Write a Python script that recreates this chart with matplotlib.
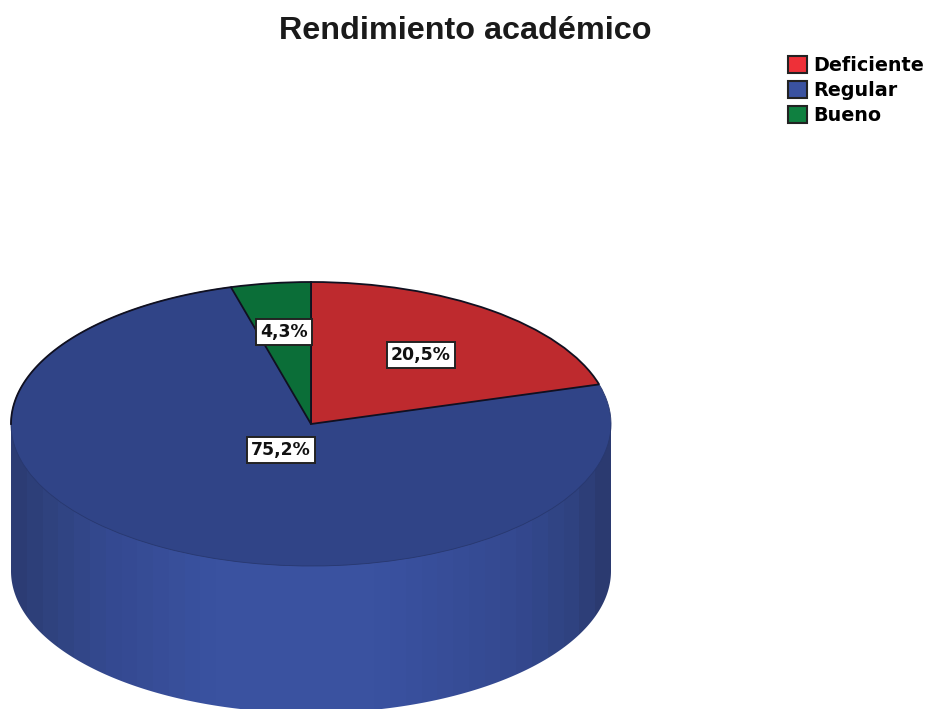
import numpy as np
import matplotlib
matplotlib.use("Agg")
import matplotlib.pyplot as plt
from matplotlib.patches import Patch, Polygon
from matplotlib.colors import LinearSegmentedColormap

title = "Rendimiento académico"
categories = ["Deficiente", "Regular", "Bueno"]
values = [20.5, 75.2, 4.3]
value_labels = ["20,5%", "75,2%", "4,3%"]
top_colors = ["#be2a2e", "#304487", "#0b6e38"]
legend_colors = ["#ee3038", "#3a52a0", "#0f8040"]

W, H = 926, 709
fig = plt.figure(figsize=(W / 100, H / 100), dpi=100, facecolor="white")

# Top ellipse occupies this pixel box; the pie is stretched into it
left, right, top, bottom = 11, 611, 282, 566
ax = fig.add_axes([left / W, 1 - bottom / H, (right - left) / W, (bottom - top) / H])
wedges, _ = ax.pie(values, colors=top_colors, startangle=90, counterclock=False, radius=1)
edge = "#101020"
for w, z, ec, lw in zip(wedges, [3, 2, 3], [edge, "#28386f", edge], [1.3, 0.6, 1.3]):
    w.set_zorder(z)
    w.set_edgecolor(ec)
    w.set_linewidth(lw)
ax.set_aspect("auto")
ax.axis("off")

# Cylinder side, shaded in vertical bands
depth = 2 * 147 / (bottom - top)
t = np.linspace(0, np.pi, 300)
outline = np.vstack([[[-1, 0]], np.column_stack([-np.cos(t), -np.sin(t) - depth]), [[1, 0]]])
side = Polygon(outline, closed=True, transform=ax.transData, facecolor="none", edgecolor="none", clip_on=False)
ax.add_patch(side)
side_cmap = LinearSegmentedColormap.from_list(
    "side", [(0.0, "#2c3c74"), (0.06, "#304380"), (0.15, "#344990"), (0.33, "#3a52a0"),
             (0.62, "#3a52a0"), (0.85, "#344990"), (0.95, "#2f4280"), (1.0, "#2b3a70")], N=38)
img = ax.imshow(np.linspace(0, 1, 38)[None, :], cmap=side_cmap, extent=(-1, 1, -1 - depth, 0),
                aspect="auto", zorder=1, interpolation="nearest")
img.set_clip_box(fig.bbox)
img.set_clip_path(side)
ax.set_xlim(-1, 1)
ax.set_ylim(-1, 1)

# Dark rim along the upper left of the top face, up to where the last slice starts
last_start = np.deg2rad(360 * values[-1] / sum(values))
a = np.linspace(last_start, np.pi / 2, 100)
ax.plot(-np.sin(a), np.cos(a), color=edge, lw=1.3, zorder=4, clip_on=False)

# Value labels
label_px = [(421, 355), (281, 450), (284, 332)]
for (px, py), lab in zip(label_px, value_labels):
    fig.text(px / W, 1 - py / H, lab, ha="center", va="center", fontsize=12.4,
             fontweight="bold", family="DejaVu Sans", color="#111111", zorder=5,
             bbox=dict(boxstyle="square,pad=0.25", facecolor="white", edgecolor="#222222", linewidth=1.4))

# Title
fig.text(465 / W, 1 - 31 / H, title, ha="center", va="center", fontsize=23.3,
         family="Liberation Sans", fontweight="bold", color="#1a1a1a")

# Legend
handles = [Patch(facecolor=c, edgecolor="#222222", linewidth=1.5) for c in legend_colors]
fig.legend(handles, categories, loc="upper left", bbox_to_anchor=(782 / W, 1 - 50 / H),
           frameon=False, handlelength=1.0, handleheight=1.0,
           handletextpad=0.35, labelspacing=0.31, borderaxespad=0, borderpad=0.3,
           prop=dict(family="DejaVu Sans", weight="bold", size=13.8))

fig.savefig("out.png", dpi=100, facecolor="white")
